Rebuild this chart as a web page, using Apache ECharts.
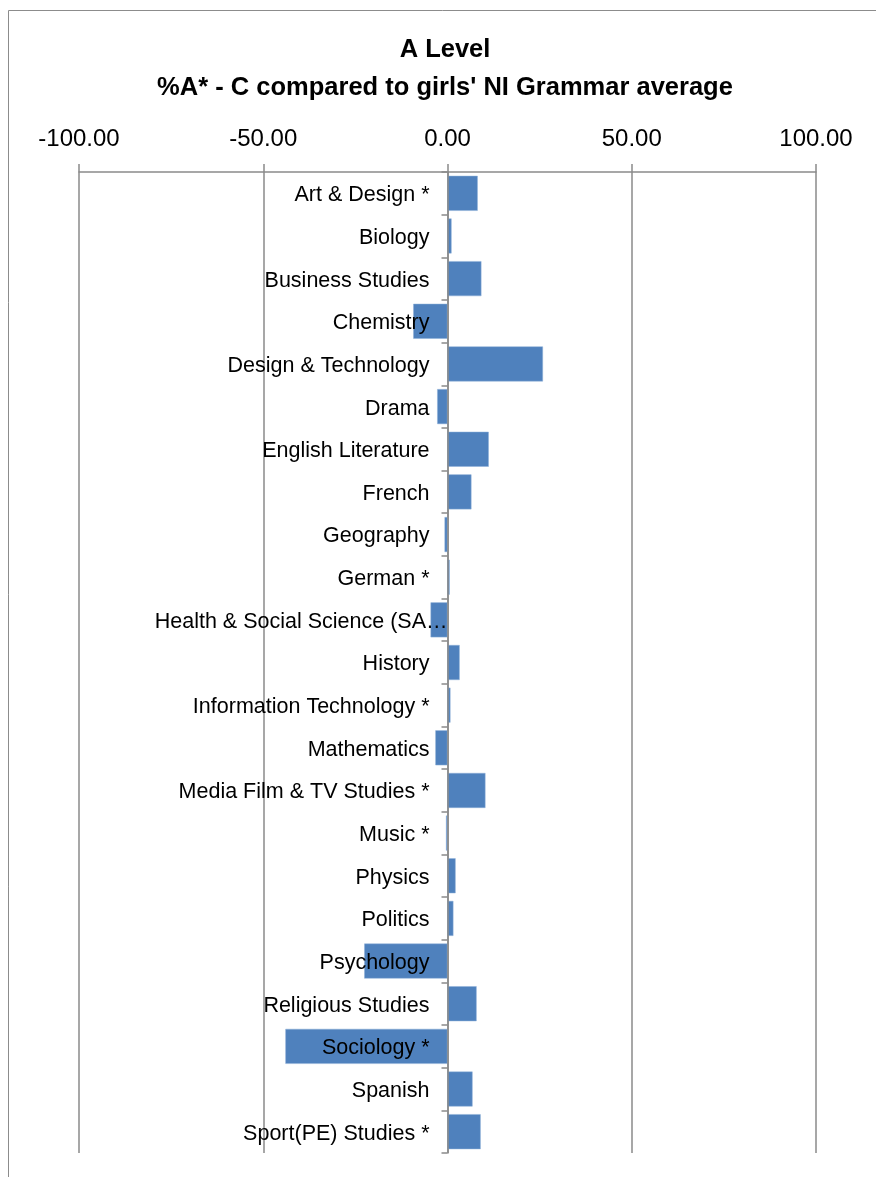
<!DOCTYPE html>
<html>
<head>
<meta charset="utf-8">
<script src="https://cdn.jsdelivr.net/npm/echarts@6/dist/echarts.min.js"></script>
<style>
html,body{margin:0;padding:0;background:#fff;}
#chart{width:876px;height:1177px;}
</style>
</head>
<body>
<div id="chart"></div>
<script>
var titleLines = ["A Level", "%A* - C compared to girls' NI Grammar average"];
var categories = ["Art & Design *", "Biology", "Business Studies", "Chemistry", "Design & Technology", "Drama",
  "English Literature", "French", "Geography", "German *", "Health & Social Science (SA…", "History",
  "Information Technology *", "Mathematics", "Media Film & TV Studies *", "Music *", "Physics", "Politics",
  "Psychology", "Religious Studies", "Sociology *", "Spanish", "Sport(PE) Studies *"];
var values = [8.2, 1.1, 9.2, -9.3, 25.9, -2.8, 11.2, 6.5, -0.8, 0.6, -4.6, 3.3, 0.8, -3.3, 10.3, -0.4,
  2.2, 1.6, -22.6, 7.9, -44.0, 6.8, 9.0];
var xTicks = { min: -100, max: 100, interval: 50 };

var gridLeft = 79, gridRight = 60;
var plotWidth = 876 - gridLeft - gridRight;
var zeroOffset = -plotWidth * (0 - xTicks.min) / (xTicks.max - xTicks.min);

var chart = echarts.init(document.getElementById('chart'));
var gridColor = '#8a8a8a';
chart.setOption({
  animation: false,
  graphic: [
    { type: 'rect', shape: { x: 8.5, y: 10.5, width: 1000, height: 1300 }, style: { fill: 'none', stroke: '#8c8c8c', lineWidth: 1 }, z: -1 },
    { type: 'text', x: 445, y: 50, style: { text: titleLines[0], font: 'bold 25.5px "Liberation Sans"', fill: '#000', align: 'center', verticalAlign: 'middle' } },
    { type: 'text', x: 445, y: 87.5, style: { text: titleLines[1], font: 'bold 25.5px "Liberation Sans"', fill: '#000', align: 'center', verticalAlign: 'middle' } }
  ],
  grid: { left: gridLeft, right: gridRight, top: 172, bottom: 24, containLabel: false, outerBoundsMode: 'none' },
  xAxis: {
    type: 'value', position: 'top',
    min: xTicks.min, max: xTicks.max, interval: xTicks.interval,
    axisLine: { show: true, onZero: false, lineStyle: { color: gridColor, width: 1.5 } },
    axisTick: { show: true, inside: false, length: 8, lineStyle: { color: gridColor, width: 1.5 } },
    splitLine: { show: true, lineStyle: { color: gridColor, width: 1.5 } },
    axisLabel: { margin: 21, color: '#000', fontFamily: 'Liberation Sans', fontSize: 24,
      formatter: function (v) { return v.toFixed(2); } }
  },
  yAxis: {
    type: 'category', inverse: true, data: categories, z: 10,
    position: 'left', offset: zeroOffset,
    axisLine: { show: true, onZero: false, lineStyle: { color: gridColor, width: 1.5 } },
    axisTick: { show: true, inside: false, length: 6, lineStyle: { color: gridColor, width: 1.5 } },
    axisLabel: { margin: 18, color: '#000', fontFamily: 'Liberation Sans', fontSize: 21.5, interval: 0,
      padding: [4, 0, 0, 0],
      formatter: function (v) { return v.indexOf('Health') === 0 ? '{h|' + v + '}' : v; },
      rich: { h: { fontFamily: 'Liberation Sans', fontSize: 21.5, color: '#000', padding: [0, -18, 0, 0] } } },
    splitLine: { show: false }
  },
  series: [{
    type: 'bar', data: values, barCategoryGap: '18%',
    itemStyle: { color: '#4F81BD', borderColor: '#8fb0d8', borderWidth: 0.5 }
  }]
});
</script>
</body>
</html>
